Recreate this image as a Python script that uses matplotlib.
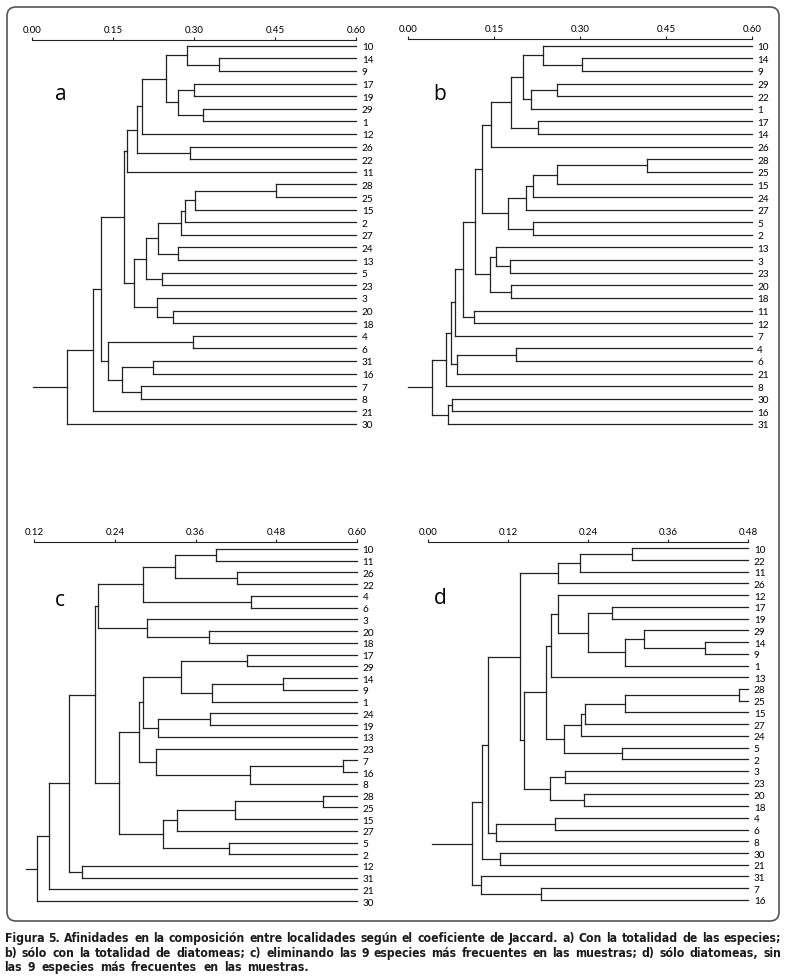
"""
dendrogramas de afinidad (Jaccard) entre localidades, figura 5
"""
import matplotlib
matplotlib.use("Agg")
from matplotlib import pyplot as plt
from matplotlib.collections import LineCollection
from matplotlib.patches import FancyBboxPatch

W, H, DPI = 785, 978, 100

# --- panel a: todas las especies ---
leaves_a = ["10", "14", "9", "17", "19", "29", "1", "12", "26", "22", "11",
            "28", "25", "15", "2", "27", "24", "13", "5", "23", "3", "20", "18",
            "4", "6", "31", "16", "7", "8", "21", "30"]
# linkage style: ids < 31 are leaves (display order), 31+k is merge k
merges_a = [[1, 2, 0.346], [0, 31, 0.286], [3, 4, 0.299], [5, 6, 0.317],
            [33, 34, 0.270], [32, 35, 0.248], [36, 7, 0.204], [8, 9, 0.292],
            [37, 38, 0.193], [39, 10, 0.176], [11, 12, 0.451], [41, 13, 0.302],
            [42, 14, 0.283], [43, 15, 0.275], [16, 17, 0.270], [44, 45, 0.233],
            [18, 19, 0.241], [46, 47, 0.210], [21, 22, 0.261], [20, 49, 0.231],
            [48, 50, 0.188], [40, 51, 0.170], [23, 24, 0.298], [25, 26, 0.223],
            [27, 28, 0.201], [54, 55, 0.166], [53, 56, 0.141], [52, 57, 0.127],
            [58, 29, 0.112], [59, 30, 0.064]]
root_a = 0.002
ticks_a = [0.00, 0.15, 0.30, 0.45, 0.60]

# --- panel b: solo diatomeas ---
leaves_b = ["10", "14", "9", "29", "22", "1", "17", "14", "26", "28", "25",
            "15", "24", "27", "5", "2", "13", "3", "23", "20", "18", "11", "12",
            "7", "4", "6", "21", "8", "30", "16", "31"]
merges_b = [[1, 2, 0.303], [0, 31, 0.236], [3, 4, 0.260], [33, 5, 0.214],
            [32, 34, 0.201], [6, 7, 0.227], [35, 36, 0.179], [37, 8, 0.145],
            [9, 10, 0.417], [39, 11, 0.259], [40, 12, 0.218], [41, 13, 0.206],
            [14, 15, 0.218], [42, 43, 0.175], [38, 44, 0.129], [17, 18, 0.178],
            [16, 46, 0.154], [19, 20, 0.179], [47, 48, 0.143], [45, 49, 0.117],
            [21, 22, 0.114], [50, 51, 0.096], [52, 23, 0.082], [24, 25, 0.189],
            [54, 26, 0.085], [53, 55, 0.075], [56, 27, 0.065], [28, 29, 0.076],
            [58, 30, 0.070], [57, 59, 0.042]]
root_b = 0.0
ticks_b = [0.00, 0.15, 0.30, 0.45, 0.60]

# --- panel c: sin las 9 especies mas frecuentes ---
leaves_c = ["10", "11", "26", "22", "4", "6", "3", "20", "18", "17", "29",
            "14", "9", "1", "24", "19", "13", "23", "7", "16", "8", "28", "25",
            "15", "27", "5", "2", "12", "31", "21", "30"]
merges_c = [[0, 1, 0.391], [2, 3, 0.422], [31, 32, 0.329], [4, 5, 0.442],
            [33, 34, 0.281], [7, 8, 0.380], [6, 36, 0.287], [35, 37, 0.215],
            [9, 10, 0.437], [11, 12, 0.490], [40, 13, 0.384], [39, 41, 0.338],
            [14, 15, 0.382], [43, 16, 0.3035], [42, 44, 0.281], [18, 19, 0.579],
            [46, 20, 0.441], [17, 47, 0.301], [45, 48, 0.275], [21, 22, 0.549],
            [50, 23, 0.418], [51, 24, 0.332], [25, 26, 0.410], [52, 53, 0.311],
            [49, 54, 0.246], [38, 55, 0.211], [27, 28, 0.191], [56, 57, 0.172],
            [58, 29, 0.142], [59, 30, 0.1236]]
root_c = 0.108
ticks_c = [0.12, 0.24, 0.36, 0.48, 0.60]

# --- panel d: diatomeas sin las 9 mas frecuentes ---
leaves_d = ["10", "22", "11", "26", "12", "17", "19", "29", "14", "9", "1",
            "13", "28", "25", "15", "27", "24", "5", "2", "3", "23", "20", "18",
            "4", "6", "8", "30", "21", "31", "7", "16"]
merges_d = [[0, 1, 0.306], [31, 2, 0.228], [32, 3, 0.194], [8, 9, 0.415],
            [7, 34, 0.323], [35, 10, 0.295], [5, 6, 0.275], [37, 36, 0.240],
            [4, 38, 0.195], [39, 11, 0.1835], [12, 13, 0.4665], [41, 14, 0.295],
            [42, 15, 0.2355], [43, 16, 0.2285], [17, 18, 0.291], [44, 45, 0.203],
            [40, 46, 0.1765], [19, 20, 0.2055], [21, 22, 0.233], [48, 49, 0.1825],
            [47, 50, 0.144], [33, 51, 0.1375], [23, 24, 0.190], [53, 25, 0.1015],
            [52, 54, 0.089], [26, 27, 0.108], [55, 56, 0.081], [29, 30, 0.169],
            [28, 58, 0.079], [57, 59, 0.066]]
root_d = 0.006
ticks_d = [0.00, 0.12, 0.24, 0.36, 0.48]

caption = [
    "Figura 5. Afinidades en la composición entre localidades según el coeficiente de Jaccard. a) Con la totalidad de las especies;",
    "b) sólo con la totalidad de diatomeas; c) eliminando las 9 especies más frecuentes en las muestras; d) sólo diatomeas, sin",
    "las 9 especies más frecuentes en las muestras.",
]

LINE = "#222222"
LABEL_FONT = ["Lato", "DejaVu Sans"]


def px_axes(fig, left, right, top, bottom):
    return fig.add_axes([left / W, 1 - bottom / H, (right - left) / W, (bottom - top) / H])


def plot_tree(ax, leaves, merges, root_start, ticks, y_top):
    n = len(leaves)
    xmax = ticks[-1]
    pos = {i: (xmax, float(i)) for i in range(n)}
    segs = []
    for k, (a, b, h) in enumerate(merges):
        xa, ya = pos[a]
        xb, yb = pos[b]
        segs += [[(xa, ya), (h, ya)], [(xb, yb), (h, yb)], [(h, ya), (h, yb)]]
        pos[n + k] = (h, (ya + yb) / 2)
    xr, yr = pos[n + len(merges) - 1]
    segs.append([(root_start, yr), (xr, yr)])
    lc = LineCollection(segs, colors=LINE, linewidths=0.9, capstyle="projecting")
    lc.set_clip_on(False)
    ax.add_collection(lc)

    ax.set_xlim(ticks[0], ticks[-1])
    ax.set_ylim(n - 0.5, y_top)
    for s in ["left", "right", "bottom"]:
        ax.spines[s].set_visible(False)
    ax.spines["top"].set_linewidth(0.8)
    ax.spines["top"].set_color(LINE)
    ax.xaxis.tick_top()
    ax.set_xticks(ticks, [f"{t:.2f}" for t in ticks], family=LABEL_FONT)
    ax.tick_params(axis="x", direction="out", length=2.5, width=0.8,
                   color=LINE, pad=1.5, labelsize=7)
    ax.yaxis.tick_right()
    ax.set_yticks(range(n), leaves, family=LABEL_FONT)
    ax.tick_params(axis="y", length=0, pad=4, labelsize=7.2)
    ax.patch.set_alpha(0)


fig = plt.figure(figsize=(W / DPI, H / DPI), dpi=DPI, facecolor="white")

# background axes in pixel units for the frame, letters and caption
bg = fig.add_axes([0, 0, 1, 1], zorder=-1)
bg.set_xlim(0, W)
bg.set_ylim(H, 0)
bg.axis("off")
frame = FancyBboxPatch((7, 8), 772, 914, boxstyle="round,pad=0,rounding_size=9",
                       fill=False, edgecolor="#555555", linewidth=1.2)
bg.add_patch(frame)

# (left px, right px, spine y px, first leaf y px, leaf spacing px)
boxes = [(32.3, 356.3, 41.0, 46.7, 12.61),
         (408.3, 751.7, 39.5, 46.7, 12.61),
         (34.3, 357.0, 542.7, 550.0, 11.74),
         (428.3, 748.3, 542.7, 549.3, 11.72)]
panels = [(leaves_a, merges_a, root_a, ticks_a),
          (leaves_b, merges_b, root_b, ticks_b),
          (leaves_c, merges_c, root_c, ticks_c),
          (leaves_d, merges_d, root_d, ticks_d)]

for (left, right, spine, first, step), (leaves, merges, root, ticks) in zip(boxes, panels):
    n = len(leaves)
    bottom = first + (n - 0.5) * step
    ax = px_axes(fig, left, right, spine, bottom)
    plot_tree(ax, leaves, merges, root, ticks, -(first - spine) / step)

for letter, x, y in [("a", 60.7, 95), ("b", 440, 94), ("c", 60, 600), ("d", 440.7, 598)]:
    bg.text(x, y, letter, fontsize=15, ha="center", va="center", family=["Open Sans", "DejaVu Sans"])

# justified caption, word by word
renderer = fig.canvas.get_renderer()
x0, x1 = 4.5, 781.0
cap_kw = dict(fontweight="bold", va="baseline", ha="left", color="#1a1a1a",
              family=["DejaVu Sans"], fontstretch="condensed")
size = 10.0
while size > 5:
    probe = [bg.text(0, 0, line, fontsize=size, **cap_kw) for line in caption]
    widest = max(p.get_window_extent(renderer).width for p in probe)
    for p in probe:
        p.remove()
    if widest < (x1 - x0) - 6:
        break
    size -= 0.1

space = size * DPI / 72 * 0.32
for i, (line, y) in enumerate(zip(caption, [942.0, 957.0, 971.0])):
    words = line.split()
    objs = [bg.text(0, y, w, fontsize=size, **cap_kw) for w in words]
    widths = [o.get_window_extent(renderer).width for o in objs]
    if i < len(caption) - 1:
        gap = (x1 - x0 - sum(widths)) / (len(words) - 1)
    else:
        gap = space * 1.5
    x = x0
    for o, w in zip(objs, widths):
        o.set_x(x)
        x += w + gap

fig.savefig("out.png", dpi=DPI, facecolor="white")
